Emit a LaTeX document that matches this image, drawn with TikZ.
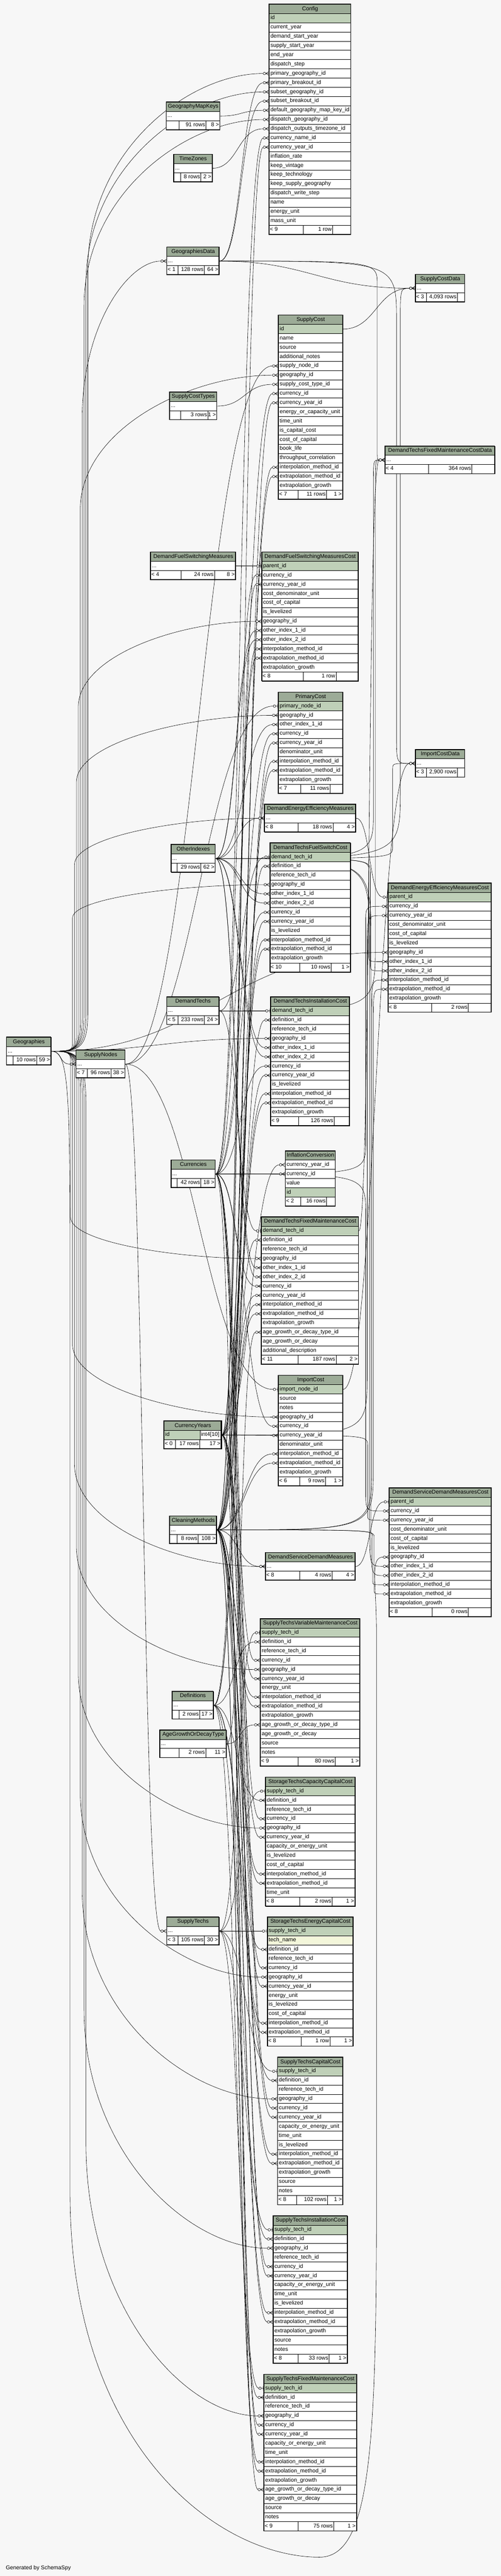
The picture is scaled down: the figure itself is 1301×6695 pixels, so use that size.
\documentclass[tikz,border=0pt]{standalone}
\usepackage{fontspec}
\setmainfont{Liberation Sans}
\usetikzlibrary{calc}
\definecolor{bgcol}{HTML}{F7F7F7}
\definecolor{hdrcol}{HTML}{9CAB97}
\definecolor{pkcol}{HTML}{BFD0B8}
\definecolor{ylcol}{HTML}{F3F6DA}
\pgfdeclarelayer{bgl}
\pgfdeclarelayer{edges}
\pgfsetlayers{bgl,edges,main}
\tikzset{
 tfont/.style={font=\fontsize{14.4}{16}\selectfont},
 cell/.style={draw=black, line width=1.3pt, inner xsep=3pt, inner ysep=0pt, minimum height=23.95pt, text height=10.5pt, text depth=3.5pt, tfont},
 rowc/.style={cell, fill=white},
 pk/.style={cell, fill=pkcol},
 yl/.style={cell, fill=ylcol},
 hdr/.style={cell, fill=hdrcol, inner xsep=0pt},
 ftxt/.style={inner sep=0pt, tfont},
 rowline/.style={draw=black, line width=1.3pt},
 edge/.style={draw=black, line width=0.8pt},
}
\def\Rh{23.95}
\newcommand{\tabhead}[5]{%
  \xdef\Tid{#1}\xdef\Tx{#2}\xdef\Txr{#3}\xdef\Ttop{#4}%
  \pgfmathsetmacro\Tmpw{#3-#2}\xdef\Tw{\Tmpw}%
  \pgfmathsetmacro\Tmpwi{#3-#2-6}\xdef\Twi{\Tmpwi}%
  \node[hdr, minimum width=\Tw pt, anchor=north west] (#1-h) at (#2,#4) {#5};%
  \pgfmathsetmacro\Tmpy{#4+\Rh}\xdef\Tyy{\Tmpy}}
\newcommand{\tadv}{\pgfmathsetmacro\Tmpy{\Tyy+\Rh}\xdef\Tyy{\Tmpy}}
\newcommand{\trow}[2][rowc]{%
  \node[#1, minimum width=\Tw pt, anchor=north west] (\Tid-#2) at (\Tx,\Tyy) {\makebox[\Twi pt][l]{#2}};%
  \tadv}
\newcommand{\tdots}{%
  \node[rowc, minimum width=\Tw pt, anchor=north west] (\Tid-r) at (\Tx,\Tyy) {\makebox[\Twi pt][l]{...}};%
  \tadv}
\newcommand{\tfoot}[5]{%
  \node[rowc, minimum width=\Tw pt, anchor=north west] (\Tid-f) at (\Tx,\Tyy) {\makebox[\Twi pt]{}};%
  \draw[rowline] (#1,\Tyy) -- ++(0,\Rh) (#2,\Tyy) -- ++(0,\Rh);%
  \node[ftxt, anchor=base west] at (\Tx+2,\Tyy+15.5) {#3};%
  \node[ftxt, anchor=base east] at (#2-2,\Tyy+15.5) {#4};%
  \node[ftxt, anchor=base east] at (\Txr-2,\Tyy+15.5) {#5};%
  \tadv
  \draw[line width=1.8pt] (\Tx,\Ttop) rectangle (\Txr,\Tyy);}
\newcommand{\mk}[1]{\draw[edge, fill=bgcol] let \p2=(#1.west) in
  (\x2-12pt,\y2) circle[radius=3.3pt]
  (\x2-8.7pt,\y2) -- (\x2,\y2+5pt) (\x2-8.7pt,\y2) -- (\x2,\y2) (\x2-8.7pt,\y2) -- (\x2,\y2-5pt);}
\newcommand{\mkone}[1]{\draw[edge, fill=bgcol] let \p2=(#1.west) in
  (\x2-10pt,\y2) circle[radius=3.3pt]
  (\x2-6.7pt,\y2) -- (\x2,\y2) (\x2-2.5pt,\y2-5.5pt) -- (\x2-2.5pt,\y2+5.5pt);}
% generic S-curve
\newcommand{\fk}[2]{\draw[edge] let \p1=(#1.east), \p2=(#2.west), \n1={max(30pt,0.45*abs(\x2-\x1))} in
  (\p1) .. controls +(\n1,0) and +(-\n1,0) .. (\x2-15.3pt,\y2);\mk{#2}}
\newcommand{\fkone}[2]{\draw[edge] let \p1=(#1.east), \p2=(#2.west), \n1={max(30pt,0.45*abs(\x2-\x1))} in
  (\p1) .. controls +(\n1,0) and +(-\n1,0) .. (\x2-13.3pt,\y2);\mkone{#2}}
% from Geographies along the left channel
\newcommand{\fkg}[2]{\draw[edge] let \p1=(GEO-r.east), \p2=(#2.west),
   \n1={\y1+0.04*(\y2-\y1)}, \n2={\y2+0.2*(\y1-\y2)}, \n3={0.45*(\x2-\x1-#1pt)} in
  (\p1) .. controls ({\x1+0.7*#1pt},\y1) and ({\x1+#1pt},\y1) .. ({\x1+#1pt},\n1)
  -- ({\x1+#1pt},\n2) .. controls ({\x1+#1pt},{\n2+0.6*(\y2-\n2)}) and ({\x2-\n3},\y2) .. (\x2-15.3pt,\y2);\mk{#2}}
% into the right column along the right channel
\newcommand{\fkr}[3]{\draw[edge] let \p1=(#2.east), \p2=(#3.west) in
  (\p1) .. controls (#1pt,\y1) and (#1pt,\y1) .. (#1pt,{\y1+0.12*(\y2-\y1)})
  -- (#1pt,{\y2-0.06*(\y2-\y1)}) .. controls (#1pt,\y2) and (#1pt,\y2) .. (\x2-15.3pt,\y2);\mk{#3}}
\begin{document}
\catcode`\_=12
\begin{tikzpicture}[x=1pt,y=-1pt]
\useasboundingbox (0,0) rectangle (1301,6695);
\begin{pgfonlayer}{bgl}
\fill[bgcol] (0,0) rectangle (1301,6695);
\end{pgfonlayer}

% ---------------- tables ----------------
\tabhead{CFG}{699}{911}{10.7}{Config}
\trow[pk]{id}\trow{current_year}\trow{demand_start_year}\trow{supply_start_year}\trow{end_year}\trow{dispatch_step}\trow{primary_geography_id}\trow{primary_breakout_id}\trow{subset_geography_id}\trow{subset_breakout_id}\trow{default_geography_map_key_id}\trow{dispatch_geography_id}\trow{dispatch_outputs_timezone_id}\trow{currency_name_id}\trow{currency_year_id}\trow{inflation_rate}\trow{keep_vintage}\trow{keep_technology}\trow{keep_supply_geography}\trow{dispatch_write_step}\trow{name}\trow{energy_unit}\trow{mass_unit}
\tfoot{788}{864}{< 9}{1 row}{}

\tabhead{GMK}{431.5}{571}{265}{GeographyMapKeys}\tdots\tfoot{465}{535}{}{91 rows}{8 >}
\tabhead{TZ}{451}{551}{400.7}{TimeZones}\tdots\tfoot{469}{522}{}{8 rows}{2 >}
\tabhead{GD}{433}{569}{642}{GeographiesData}\tdots\tfoot{462}{531}{< 1}{128 rows}{64 >}
\tabhead{SCD}{1079}{1207}{712.6}{SupplyCostData}\tdots\tfoot{1108}{1188}{< 3}{4,093 rows}{}

\tabhead{SC}{723}{890}{818.7}{SupplyCost}
\trow[pk]{id}\trow{name}\trow{source}\trow{additional_notes}\trow{supply_node_id}\trow{geography_id}\trow{supply_cost_type_id}\trow{currency_id}\trow{currency_year_id}\trow{energy_or_capacity_unit}\trow{time_unit}\trow{is_capital_cost}\trow{cost_of_capital}\trow{book_life}\trow{throughput_correlation}\trow{interpolation_method_id}\trow{extrapolation_method_id}\trow{extrapolation_growth}
\tfoot{774}{848}{< 7}{11 rows}{1 >}

\tabhead{SCT}{440}{563}{1018.7}{SupplyCostTypes}\tdots\tfoot{469}{540}{}{3 rows}{1 >}
\tabhead{DTFMCD}{1000}{1285}{1159}{DemandTechsFixedMaintenanceCostData}\tdots\tfoot{1113}{1226}{< 4}{364 rows}{}
\tabhead{DFSM}{391}{612}{1434.6}{DemandFuelSwitchingMeasures}\tdots\tfoot{470}{557}{< 4}{24 rows}{8 >}

\tabhead{DFSMC}{680}{930}{1434.6}{DemandFuelSwitchingMeasuresCost}
\trow[pk]{parent_id}\trow{currency_id}\trow{currency_year_id}\trow{cost_denominator_unit}\trow{cost_of_capital}\trow{is_levelized}\trow{geography_id}\trow{other_index_1_id}\trow{other_index_2_id}\trow{interpolation_method_id}\trow{extrapolation_method_id}\trow{extrapolation_growth}
\tfoot{788}{873}{< 8}{1 row}{}

\tabhead{PC}{723}{890}{1798.6}{PrimaryCost}
\trow[pk]{primary_node_id}\trow{geography_id}\trow{other_index_1_id}\trow{currency_id}\trow{currency_year_id}\trow{denominator_unit}\trow{interpolation_method_id}\trow{extrapolation_method_id}\trow{extrapolation_growth}
\tfoot{781}{857}{< 7}{11 rows}{}

\tabhead{ICD}{1079}{1207}{1947.6}{ImportCostData}\tdots\tfoot{1108}{1188}{< 3}{2,900 rows}{}
\tabhead{DEEM}{687}{924}{2090}{DemandEnergyEfficiencyMeasures}\tdots\tfoot{775}{865}{< 8}{18 rows}{4 >}
\tabhead{OI}{444}{559}{2194.7}{OtherIndexes}\tdots\tfoot{460.5}{522}{}{29 rows}{62 >}

\tabhead{DTFSC}{701}{910}{2190.8}{DemandTechsFuelSwitchCost}
\trow[pk]{demand_tech_id}\trow{definition_id}\trow{reference_tech_id}\trow{geography_id}\trow{other_index_1_id}\trow{other_index_2_id}\trow{currency_id}\trow{currency_year_id}\trow{is_levelized}\trow{interpolation_method_id}\trow{extrapolation_method_id}\trow{extrapolation_growth}
\tfoot{778}{860.5}{< 10}{10 rows}{1 >}

\tabhead{DEEMC}{1008}{1276}{2295}{DemandEnergyEfficiencyMeasuresCost}
\trow[pk]{parent_id}\trow{currency_id}\trow{currency_year_id}\trow{cost_denominator_unit}\trow{cost_of_capital}\trow{is_levelized}\trow{geography_id}\trow{other_index_1_id}\trow{other_index_2_id}\trow{interpolation_method_id}\trow{extrapolation_method_id}\trow{extrapolation_growth}
\tfoot{1121}{1217}{< 8}{2 rows}{}

\tabhead{DT}{433}{568.5}{2590.6}{DemandTechs}\tdots\tfoot{462}{531}{< 5}{233 rows}{24 >}

\tabhead{DTIC}{703}{908}{2590.6}{DemandTechsInstallationCost}
\trow[pk]{demand_tech_id}\trow{definition_id}\trow{reference_tech_id}\trow{geography_id}\trow{other_index_1_id}\trow{other_index_2_id}\trow{currency_id}\trow{currency_year_id}\trow{is_levelized}\trow{interpolation_method_id}\trow{extrapolation_method_id}\trow{extrapolation_growth}
\tfoot{776}{868}{< 9}{126 rows}{}

\tabhead{GEO}{16.6}{132}{2695.6}{Geographies}\tdots\tfoot{34}{95.4}{}{10 rows}{59 >}
\tabhead{SN}{197.5}{324.5}{2729}{SupplyNodes}\tdots\tfoot{226.5}{288}{< 7}{96 rows}{38 >}

\tabhead{INF}{741}{871}{2990.7}{InflationConversion}
\trow{currency_year_id}\trow{currency_id}\trow{value}\trow[pk]{id}
\tfoot{781}{848}{< 2}{16 rows}{}

\tabhead{CUR}{444}{559}{3014.6}{Currencies}\tdots\tfoot{460.5}{522}{}{42 rows}{18 >}

\tabhead{DTFMC}{679}{931}{3162.5}{DemandTechsFixedMaintenanceCost}
\trow[pk]{demand_tech_id}\trow{definition_id}\trow{reference_tech_id}\trow{geography_id}\trow{other_index_1_id}\trow{other_index_2_id}\trow{currency_id}\trow{currency_year_id}\trow{interpolation_method_id}\trow{extrapolation_method_id}\trow{extrapolation_growth}\trow{age_growth_or_decay_type_id}\trow{age_growth_or_decay}\trow{additional_description}
\tfoot{774}{873}{< 11}{187 rows}{2 >}

\tabhead{IMP}{723}{890}{3574.4}{ImportCost}
\trow[pk]{import_node_id}\trow{source}\trow{notes}\trow{geography_id}\trow{currency_id}\trow{currency_year_id}\trow{denominator_unit}\trow{interpolation_method_id}\trow{extrapolation_method_id}\trow{extrapolation_growth}
\tfoot{778}{845}{< 6}{9 rows}{1 >}

\tabhead{CY}{425.7}{575}{3693}{CurrencyYears}
\node[pk, minimum width=93.3pt, anchor=north west] (CY-id) at (425.7,\Tyy) {\makebox[87.3pt][l]{id}};
\node[rowc, minimum width=56pt, anchor=north west] (CY-r) at (519,\Tyy) {\makebox[50pt][l]{int4[10]}};
\tadv
\tfoot{456.4}{518.7}{< 0}{17 rows}{17 >}
\draw[line width=3pt] (425.7,3693) rectangle (575,\Tyy);

\tabhead{DSDMC}{1011}{1276}{3866.6}{DemandServiceDemandMeasuresCost}
\trow[pk]{parent_id}\trow{currency_id}\trow{currency_year_id}\trow{cost_denominator_unit}\trow{cost_of_capital}\trow{is_levelized}\trow{geography_id}\trow{other_index_1_id}\trow{other_index_2_id}\trow{interpolation_method_id}\trow{extrapolation_method_id}\trow{extrapolation_growth}
\tfoot{1123}{1217}{< 8}{0 rows}{}

\tabhead{CM}{440.7}{562}{3939.6}{CleaningMethods}\tdots\tfoot{460.5}{515}{}{8 rows}{108 >}
\tabhead{DSDM}{689.6}{922}{4034.6}{DemandServiceDemandMeasures}\tdots\tfoot{779}{863}{< 8}{4 rows}{4 >}

\tabhead{STVMC}{676.3}{934.4}{4206.7}{SupplyTechsVariableMaintenanceCost}
\trow[pk]{supply_tech_id}\trow{definition_id}\trow{reference_tech_id}\trow{currency_id}\trow{geography_id}\trow{currency_year_id}\trow{energy_unit}\trow{interpolation_method_id}\trow{extrapolation_method_id}\trow{extrapolation_growth}\trow{age_growth_or_decay_type_id}\trow{age_growth_or_decay}\trow{source}\trow{notes}
\tfoot{774}{871}{< 9}{80 rows}{1 >}

\tabhead{DEF}{447}{554}{4395.6}{Definitions}\tdots\tfoot{464.7}{518.7}{}{2 rows}{17 >}
\tabhead{AGT}{415}{587.5}{4495.8}{AgeGrowthOrDecayType}\tdots\tfoot{464.7}{534.4}{}{2 rows}{11 >}

\tabhead{STCCC}{689.6}{922}{4618.6}{StorageTechsCapacityCapitalCost}
\trow[pk]{supply_tech_id}\trow{definition_id}\trow{reference_tech_id}\trow{currency_id}\trow{geography_id}\trow{currency_year_id}\trow{capacity_or_energy_unit}\trow{is_levelized}\trow{cost_of_capital}\trow{interpolation_method_id}\trow{extrapolation_method_id}\trow{time_unit}
\tfoot{779}{863}{< 8}{2 rows}{1 >}

\tabhead{ST}{433}{568.5}{4982.2}{SupplyTechs}\tdots\tfoot{462}{531}{< 3}{105 rows}{30 >}

\tabhead{STECC}{694.6}{917}{4982.2}{StorageTechsEnergyCapitalCost}
\trow[pk]{supply_tech_id}\trow[yl]{tech_name}\trow{definition_id}\trow{reference_tech_id}\trow{currency_id}\trow{geography_id}\trow{currency_year_id}\trow{energy_unit}\trow{is_levelized}\trow{cost_of_capital}\trow{interpolation_method_id}\trow{extrapolation_method_id}
\tfoot{782.6}{857}{< 8}{1 row}{1 >}

\tabhead{STCC}{721}{890.5}{5346.6}{SupplyTechsCapitalCost}
\trow[pk]{supply_tech_id}\trow{definition_id}\trow{reference_tech_id}\trow{geography_id}\trow{currency_id}\trow{currency_year_id}\trow{capacity_or_energy_unit}\trow{time_unit}\trow{is_levelized}\trow{interpolation_method_id}\trow{extrapolation_method_id}\trow{extrapolation_growth}\trow{source}\trow{notes}
\tfoot{771}{850.6}{< 8}{102 rows}{1 >}

\tabhead{STIC}{709.5}{902}{5758.6}{SupplyTechsInstallationCost}
\trow[pk]{supply_tech_id}\trow{definition_id}\trow{geography_id}\trow{reference_tech_id}\trow{currency_id}\trow{currency_year_id}\trow{capacity_or_energy_unit}\trow{time_unit}\trow{is_levelized}\trow{interpolation_method_id}\trow{extrapolation_method_id}\trow{extrapolation_growth}\trow{source}\trow{notes}
\tfoot{774}{855}{< 8}{33 rows}{1 >}

\tabhead{STFMC}{685.5}{926}{6170.4}{SupplyTechsFixedMaintenanceCost}
\trow[pk]{supply_tech_id}\trow{definition_id}\trow{reference_tech_id}\trow{geography_id}\trow{currency_id}\trow{currency_year_id}\trow{capacity_or_energy_unit}\trow{time_unit}\trow{interpolation_method_id}\trow{extrapolation_method_id}\trow{extrapolation_growth}\trow{age_growth_or_decay_type_id}\trow{age_growth_or_decay}\trow{source}\trow{notes}
\tfoot{774}{867}{< 9}{75 rows}{1 >}

\node[ftxt, anchor=west] (gen) at (15,6675) {Generated by SchemaSpy};

% ---------------- connectors ----------------
\begin{pgfonlayer}{edges}
% Config
\fkg{95}{CFG-primary_geography_id}
\fk{GD-r}{CFG-primary_breakout_id}
\fkg{90}{CFG-subset_geography_id}
\fk{GD-r}{CFG-subset_breakout_id}
\fk{GMK-r}{CFG-default_geography_map_key_id}
\fkg{85}{CFG-dispatch_geography_id}
\fk{TZ-r}{CFG-dispatch_outputs_timezone_id}
\fk{CUR-r}{CFG-currency_name_id}
\fk{CY-r}{CFG-currency_year_id}
% GeographiesData
\fkg{80}{GD-r}
% SupplyCostData
\fk{SC-id}{SCD-r}
\fk{GD-r}{SCD-r}
\fkr{1040}{OI-r}{SCD-r}
% SupplyCost
\fk{SN-r}{SC-supply_node_id}
\fkg{75}{SC-geography_id}
\fk{SCT-r}{SC-supply_cost_type_id}
\fk{CUR-r}{SC-currency_id}
\fk{CY-r}{SC-currency_year_id}
\fk{CM-r}{SC-interpolation_method_id}
\fk{CM-r}{SC-extrapolation_method_id}
% DemandTechsFixedMaintenanceCostData
\fk{DTFMC-demand_tech_id}{DTFMCD-r}
\fkr{975}{DT-r}{DTFMCD-r}
\fkr{980}{GD-r}{DTFMCD-r}
\fkr{970}{OI-r}{DTFMCD-r}
% DemandFuelSwitchingMeasuresCost
\fkone{DFSM-r}{DFSMC-parent_id}
\fk{CUR-r}{DFSMC-currency_id}
\fk{CY-r}{DFSMC-currency_year_id}
\fkg{70}{DFSMC-geography_id}
\fk{OI-r}{DFSMC-other_index_1_id}
\fk{OI-r}{DFSMC-other_index_2_id}
\fk{CM-r}{DFSMC-interpolation_method_id}
\fk{CM-r}{DFSMC-extrapolation_method_id}
% PrimaryCost
\fkone{SN-r}{PC-primary_node_id}
\fkg{65}{PC-geography_id}
\fk{OI-r}{PC-other_index_1_id}
\fk{CUR-r}{PC-currency_id}
\fk{CY-r}{PC-currency_year_id}
\fk{CM-r}{PC-interpolation_method_id}
\fk{CM-r}{PC-extrapolation_method_id}
% ImportCostData
\fk{IMP-import_node_id}{ICD-r}
\fkr{1030}{GD-r}{ICD-r}
\fkr{1020}{OI-r}{ICD-r}
% DemandEnergyEfficiencyMeasures
\fkg{60}{DEEM-r}
\fk{OI-r}{DEEM-r}
% DemandTechsFuelSwitchCost
\fkone{DT-r}{DTFSC-demand_tech_id}
\fk{DEF-r}{DTFSC-definition_id}
\fkg{55}{DTFSC-geography_id}
\fk{OI-r}{DTFSC-other_index_1_id}
\fk{OI-r}{DTFSC-other_index_2_id}
\fk{CUR-r}{DTFSC-currency_id}
\fk{CY-r}{DTFSC-currency_year_id}
\fk{CM-r}{DTFSC-interpolation_method_id}
\fk{CM-r}{DTFSC-extrapolation_method_id}
% DemandEnergyEfficiencyMeasuresCost
\fkone{DEEM-r}{DEEMC-parent_id}
\fkr{950}{CUR-r}{DEEMC-currency_id}
\fkr{954}{CY-r}{DEEMC-currency_year_id}
\fk{GEO-r}{DEEMC-geography_id}
\fkr{958}{OI-r}{DEEMC-other_index_1_id}
\fkr{962}{OI-r}{DEEMC-other_index_2_id}
\fkr{966}{CM-r}{DEEMC-interpolation_method_id}
\fkr{970}{CM-r}{DEEMC-extrapolation_method_id}
% DemandTechsInstallationCost
\fkone{DT-r}{DTIC-demand_tech_id}
\fk{DEF-r}{DTIC-definition_id}
\fk{GEO-r}{DTIC-geography_id}
\fk{OI-r}{DTIC-other_index_1_id}
\fk{OI-r}{DTIC-other_index_2_id}
\fk{CUR-r}{DTIC-currency_id}
\fk{CY-r}{DTIC-currency_year_id}
\fk{CM-r}{DTIC-interpolation_method_id}
\fk{CM-r}{DTIC-extrapolation_method_id}
% SupplyNodes, InflationConversion
\fk{GEO-r}{SN-r}
\fk{CY-r}{INF-currency_year_id}
\fk{CUR-r}{INF-currency_id}
% DemandTechsFixedMaintenanceCost
\fkone{DT-r}{DTFMC-demand_tech_id}
\fk{DEF-r}{DTFMC-definition_id}
\fkg{50}{DTFMC-geography_id}
\fk{OI-r}{DTFMC-other_index_1_id}
\fk{OI-r}{DTFMC-other_index_2_id}
\fk{CUR-r}{DTFMC-currency_id}
\fk{CY-r}{DTFMC-currency_year_id}
\fk{CM-r}{DTFMC-interpolation_method_id}
\fk{CM-r}{DTFMC-extrapolation_method_id}
\fk{AGT-r}{DTFMC-age_growth_or_decay_type_id}
% ImportCost
\fkone{SN-r}{IMP-import_node_id}
\fkg{55}{IMP-geography_id}
\fk{CUR-r}{IMP-currency_id}
\fk{CY-r}{IMP-currency_year_id}
\fk{CM-r}{IMP-interpolation_method_id}
\fk{CM-r}{IMP-extrapolation_method_id}
% DemandServiceDemandMeasuresCost
\fkone{DSDM-r}{DSDMC-parent_id}
\fkr{950}{CUR-r}{DSDMC-currency_id}
\fkr{955}{CY-r}{DSDMC-currency_year_id}
\draw[edge] (GEO-r.east) .. controls (182,2731) and (182,2850) .. (182,3400) -- (182,5700) .. controls (182,6350) and (560,6646) .. (830,6646) .. controls (965,6646) and (978,6350) .. (978,5700) -- (978,4250) .. controls (978,4110) and (960,4046) .. ([xshift=-15.3pt]DSDMC-geography_id.west);
\mk{DSDMC-geography_id}
\fkr{960}{OI-r}{DSDMC-other_index_1_id}
\fkr{964}{OI-r}{DSDMC-other_index_2_id}
\fkr{968}{CM-r}{DSDMC-interpolation_method_id}
\fkr{972}{CM-r}{DSDMC-extrapolation_method_id}
% DemandServiceDemandMeasures
\fkg{60}{DSDM-r}
\fk{CM-r}{DSDM-r}
% SupplyTechsVariableMaintenanceCost
\fkone{ST-r}{STVMC-supply_tech_id}
\fk{DEF-r}{STVMC-definition_id}
\fk{CUR-r}{STVMC-currency_id}
\fkg{65}{STVMC-geography_id}
\fk{CY-r}{STVMC-currency_year_id}
\fk{CM-r}{STVMC-interpolation_method_id}
\fk{CM-r}{STVMC-extrapolation_method_id}
\fk{AGT-r}{STVMC-age_growth_or_decay_type_id}
% StorageTechsCapacityCapitalCost
\fkone{ST-r}{STCCC-supply_tech_id}
\fk{DEF-r}{STCCC-definition_id}
\fk{CUR-r}{STCCC-currency_id}
\fkg{70}{STCCC-geography_id}
\fk{CY-r}{STCCC-currency_year_id}
\fk{CM-r}{STCCC-interpolation_method_id}
\fk{CM-r}{STCCC-extrapolation_method_id}
% SupplyTechs
\fk{SN-r}{ST-r}
% StorageTechsEnergyCapitalCost
\fkone{ST-r}{STECC-supply_tech_id}
\fk{DEF-r}{STECC-definition_id}
\fk{CUR-r}{STECC-currency_id}
\fkg{75}{STECC-geography_id}
\fk{CY-r}{STECC-currency_year_id}
\fk{CM-r}{STECC-interpolation_method_id}
\fk{CM-r}{STECC-extrapolation_method_id}
% SupplyTechsCapitalCost
\fkone{ST-r}{STCC-supply_tech_id}
\fk{DEF-r}{STCC-definition_id}
\fkg{80}{STCC-geography_id}
\fk{CUR-r}{STCC-currency_id}
\fk{CY-r}{STCC-currency_year_id}
\fk{CM-r}{STCC-interpolation_method_id}
\fk{CM-r}{STCC-extrapolation_method_id}
% SupplyTechsInstallationCost
\fkone{ST-r}{STIC-supply_tech_id}
\fk{DEF-r}{STIC-definition_id}
\fkg{85}{STIC-geography_id}
\fk{CUR-r}{STIC-currency_id}
\fk{CY-r}{STIC-currency_year_id}
\fk{CM-r}{STIC-interpolation_method_id}
\fk{CM-r}{STIC-extrapolation_method_id}
% SupplyTechsFixedMaintenanceCost
\fkone{ST-r}{STFMC-supply_tech_id}
\fk{DEF-r}{STFMC-definition_id}
\fkg{90}{STFMC-geography_id}
\fk{CUR-r}{STFMC-currency_id}
\fk{CY-r}{STFMC-currency_year_id}
\fk{CM-r}{STFMC-interpolation_method_id}
\fk{CM-r}{STFMC-extrapolation_method_id}
\fk{AGT-r}{STFMC-age_growth_or_decay_type_id}
\end{pgfonlayer}
\end{tikzpicture}
\end{document}
